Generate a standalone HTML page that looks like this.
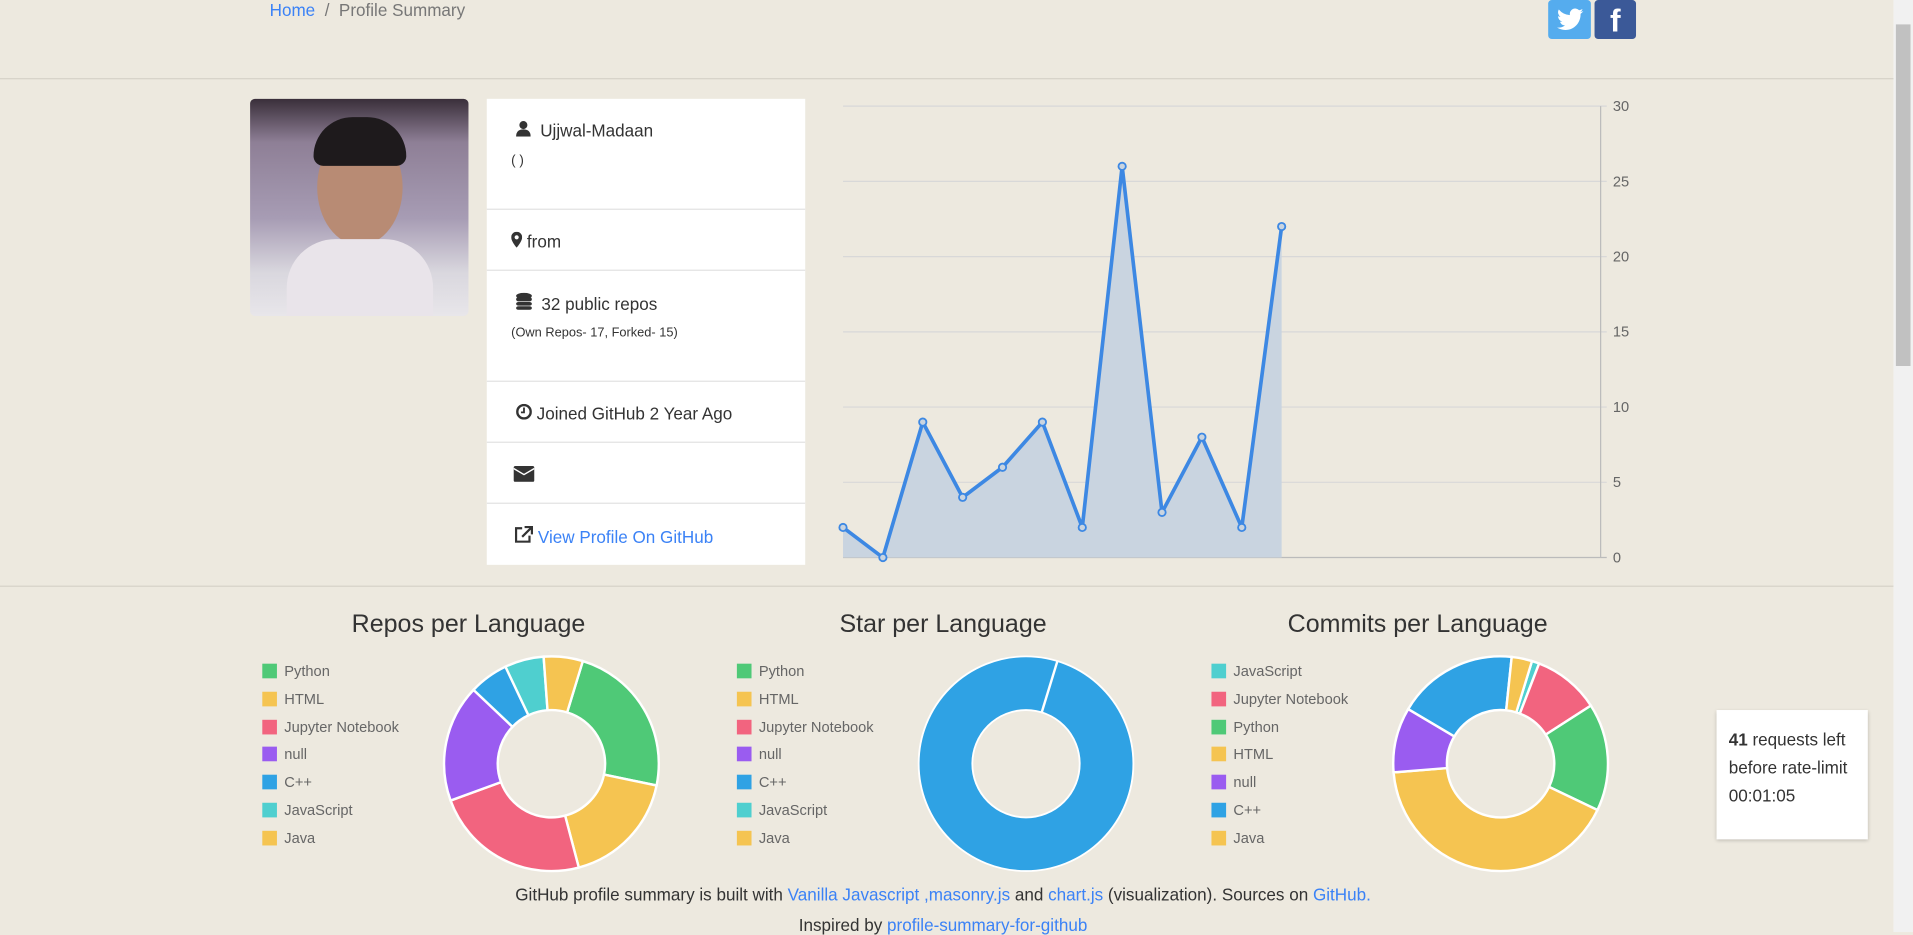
<!DOCTYPE html>
<html><head><meta charset="utf-8">
<style>
html,body{margin:0;padding:0;width:1913px;height:932px;overflow:hidden;background:#ede9df;}
#wrap{position:absolute;left:0;top:0;width:1568px;height:764px;transform:scale(1.22);transform-origin:0 0;font-family:"Liberation Sans Narrow","Liberation Sans",sans-serif;color:#333;}
.abs{position:absolute;}
a{color:#3b82f6;text-decoration:none;}
.card{left:399px;top:81px;width:261px;height:382px;background:#fff;}
.row{position:absolute;left:0;width:261px;border-top:1px solid #e2e2e2;}
.txt{position:absolute;font-size:14px;white-space:nowrap;}
.title{font-size:20.5px;color:#333;text-align:center;width:300px;}
.leg{font-family:"Liberation Sans",sans-serif;font-size:12px;color:#666;}
.leg div{position:absolute;white-space:nowrap;}
.leg span{display:inline-block;width:12px;height:12px;vertical-align:-2px;margin-right:6px;}
</style></head><body>
<div id="wrap">
<div class="abs txt" style="left:221px;top:0px;color:#777"><a href="#">Home</a> &nbsp;/&nbsp; Profile Summary</div>
<div class="abs" style="left:1269px;top:0;width:35px;height:32px;background:#55acee;border-radius:3px;color:#fff;font-size:20px;text-align:center;line-height:32px"><svg width="22" height="18" viewBox="0 0 24 20" style="margin-top:7px"><path d="M24 2.4a9.8 9.8 0 0 1-2.8.8A5 5 0 0 0 23.3.4a9.9 9.9 0 0 1-3.1 1.2A4.9 4.9 0 0 0 11.8 6 14 14 0 0 1 1.7.9a4.9 4.9 0 0 0 1.5 6.6 4.9 4.9 0 0 1-2.2-.6 4.9 4.9 0 0 0 3.9 4.9 4.9 4.9 0 0 1-2.2.1 4.9 4.9 0 0 0 4.6 3.4A9.9 9.9 0 0 1 0 17.3 14 14 0 0 0 7.5 19.5c9.1 0 14-7.5 14-14v-.6A10 10 0 0 0 24 2.4z" fill="#fff"/></svg></div>
<div class="abs" style="left:1307px;top:0;width:34px;height:32px;background:#3b5998;border-radius:3px;color:#fff;font-size:26px;font-weight:bold;text-align:center;line-height:34px;font-family:'Liberation Sans',sans-serif">f</div>
<div class="abs" style="left:1552px;top:0;width:16px;height:764px;background:#f1f1f1"><div style="position:absolute;left:2px;top:20px;width:12px;height:280px;background:#c1c1c1"></div></div>
<div class="abs" style="left:0;top:64px;width:1552px;height:1px;background:#d6d2c8"></div>
<div class="abs" style="left:0;top:480px;width:1552px;height:1px;background:#d6d2c8"></div>

<div class="abs" style="left:205px;top:81px;width:179px;height:178px;border-radius:4px;background:linear-gradient(180deg,#3a2f3a 0%,#8e7f96 20%,#a79cb4 55%,#d9d7de 80%,#e8e6ea 100%);overflow:hidden">
<div style="position:absolute;left:55px;top:25px;width:70px;height:95px;border-radius:50%;background:#b88b74"></div>
<div style="position:absolute;left:52px;top:15px;width:76px;height:40px;border-radius:40px 40px 10px 10px;background:#1e1a1c"></div>
<div style="position:absolute;left:30px;top:115px;width:120px;height:70px;border-radius:40px 40px 0 0;background:#e9e4ea"></div>
</div>

<div class="abs card">
<div class="txt" style="left:24px;top:18px"><svg width="12" height="13" viewBox="0 0 12 13"><circle cx="6" cy="3.5" r="3.3" fill="#333"/><path d="M0 13 Q0 7 6 7 Q12 7 12 13Z" fill="#333"/></svg>&nbsp; Ujjwal-Madaan</div>
<div class="txt" style="left:20px;top:45px;font-size:11px">( )</div>
<div class="row" style="top:90px"></div>
<div class="txt" style="left:20px;top:109px"><svg width="9" height="13" viewBox="0 0 9 13"><path d="M4.5 0a4.5 4.5 0 0 1 4.5 4.5C9 8 4.5 13 4.5 13S0 8 0 4.5A4.5 4.5 0 0 1 4.5 0z" fill="#333"/><circle cx="4.5" cy="4.5" r="1.7" fill="#fff"/></svg> from</div>
<div class="row" style="top:140px"></div>
<div class="txt" style="left:24px;top:159px"><svg width="13" height="14" viewBox="0 0 13 14"><ellipse cx="6.5" cy="2.5" rx="6.5" ry="2.5" fill="#333"/><rect x="0" y="3.5" width="13" height="3.5" rx="2" fill="#333"/><rect x="0" y="7.5" width="13" height="3" rx="2" fill="#333"/><rect x="0" y="11" width="13" height="3" rx="2" fill="#333"/></svg>&nbsp; 32 public repos</div>
<div class="txt" style="left:20px;top:186px;font-size:10.5px">(Own Repos- 17, Forked- 15)</div>
<div class="row" style="top:231px"></div>
<div class="txt" style="left:24px;top:250px"><svg width="13" height="13" viewBox="0 0 13 13"><circle cx="6.5" cy="6.5" r="5.5" fill="none" stroke="#333" stroke-width="2"/><path d="M6.5 3v4h-2.5" stroke="#333" stroke-width="1.5" fill="none"/></svg> Joined GitHub 2 Year Ago</div>
<div class="row" style="top:281px"></div>
<div class="txt" style="left:22px;top:301px"><svg width="17" height="13" viewBox="0 0 17 13"><rect width="17" height="13" rx="1.5" fill="#333"/><path d="M0 2 L8.5 7 L17 2" stroke="#fff" stroke-width="1.2" fill="none"/></svg></div>
<div class="row" style="top:331px"></div>
<div class="txt" style="left:23px;top:350px"><svg width="15" height="14" viewBox="0 0 15 14"><path d="M6 2H1v11h11V8" stroke="#333" stroke-width="1.8" fill="none"/><path d="M8 1h6v6M14 1L6 9" stroke="#333" stroke-width="1.8" fill="none"/></svg> <a href="#">View Profile On GitHub</a></div>
</div>

<svg id="line" class="abs" style="left:680px;top:75px" width="680" height="400"></svg>

<div class="abs title" style="left:234px;top:500px">Repos per Language</div>
<div class="abs title" style="left:623px;top:500px">Star per Language</div>
<div class="abs title" style="left:1012px;top:500px">Commits per Language</div>
<div id="leg1" class="abs leg" style="left:215px;top:543px"></div>
<div id="leg2" class="abs leg" style="left:604px;top:543px"></div>
<div id="leg3" class="abs leg" style="left:993px;top:543px"></div>
<svg id="d1" class="abs" style="left:352px;top:526px" width="200" height="200"></svg>
<svg id="d2" class="abs" style="left:741px;top:526px" width="200" height="200"></svg>
<svg id="d3" class="abs" style="left:1130px;top:526px" width="200" height="200"></svg>

<div class="abs" style="left:1407px;top:582px;width:124px;height:106px;background:#fff;box-shadow:0 1px 3px rgba(0,0,0,.2)">
<div class="txt" style="left:10px;top:16px"><b>41</b> requests left</div>
<div class="txt" style="left:10px;top:39px">before rate-limit</div>
<div class="txt" style="left:10px;top:62px">00:01:05</div>
</div>
<div class="abs txt" style="left:0;width:1546px;text-align:center;top:725px">GitHub profile summary is built with <a href="#">Vanilla Javascript</a> <a href="#">,masonry.js</a> and <a href="#">chart.js</a> (visualization). Sources on <a href="#">GitHub.</a></div>
<div class="abs txt" style="left:0;width:1546px;text-align:center;top:750px">Inspired by <a href="#">profile-summary-for-github</a></div>
</div>
<script>
const lineValues=[2,0,9,4,6,9,2,26,3,8,2,22];
const lineSlots=20;
const yTicks=[0,5,10,15,20,25,30];
const repoLangs=["Python","HTML","Jupyter Notebook","null","C++","JavaScript","Java"];
const repoValues=[4,3,4,3,1,1,1];
const starLangs=["Python","HTML","Jupyter Notebook","null","C++","JavaScript","Java"];
const starValues=[0,0,0,0,5,0,0];
const commitLangs=["JavaScript","Jupyter Notebook","Python","HTML","null","C++","Java"];
const commitValues=[4,36,58,149,35,65,11];
const colorMap={"Python":"#4fc977","HTML":"#f5c451","Jupyter Notebook":"#f2647f","null":"#9a5cf0","C++":"#2fa2e4","JavaScript":"#4fcfcf","Java":"#f5c451"};
const NS="http://www.w3.org/2000/svg";
function mk(t,a,p){const e=document.createElementNS(NS,t);for(const k in a)e.setAttribute(k,a[k]);p.appendChild(e);return e;}
(function(){
const s=document.getElementById('line');
const x0=11,x1=632,y0=382,y1=12;
const X=i=>x0+(x1-x0)*i/(lineSlots-1);
const Y=v=>y0-(y0-y1)*v/30;
yTicks.forEach(t=>{const g=mk('line',{x1:x0,x2:x1+5,y1:Y(t),y2:Y(t),stroke:t===0?'#bbb':'#d8d8d8','stroke-width':1},s);

const tx=mk('text',{x:x1+10,y:Y(t)+4,'font-size':12,fill:'#666','font-family':'Liberation Sans, sans-serif'},s);tx.textContent=t;
});
mk('line',{x1:x1,x2:x1,y1:y1,y2:y0,stroke:'#bbb'},s);
let d='M'+X(0)+' '+y0;lineValues.forEach((v,i)=>d+=' L'+X(i)+' '+Y(v));d+=' L'+X(lineValues.length-1)+' '+y0+'Z';
const a=mk('path',{d:d,fill:'#c9d4e0'},s);
const l=mk('polyline',{points:lineValues.map((v,i)=>X(i)+','+Y(v)).join(' '),fill:'none',stroke:'#3d88e3','stroke-width':3,'stroke-linejoin':'round'},s);

lineValues.forEach((v,i)=>{const c=mk('circle',{cx:X(i),cy:Y(v),r:3,fill:'#c9d4e0',stroke:'#3d88e3','stroke-width':1.5},s);
});
})();
function donut(id,legId,langs,vals){
const s=document.getElementById(id);const cx=100,cy=100,R=88,r=44;
const tot=vals.reduce((a,b)=>a+b,0);let ang=17*Math.PI/180;
const P=(rad,t)=>[cx+rad*Math.sin(t),cy-rad*Math.cos(t)];
langs.forEach((n,i)=>{if(!vals[i])return;
let p;
if(vals[i]===tot){p=mk('circle',{cx:cx,cy:cy,r:(R+r)/2,fill:'none',stroke:colorMap[n],'stroke-width':R-r},s);
mk('circle',{cx:cx,cy:cy,r:R,fill:'none',stroke:'#fff','stroke-width':1.5},s);
mk('circle',{cx:cx,cy:cy,r:r,fill:'none',stroke:'#fff','stroke-width':1.5},s);
const [ax,ay]=P(r,ang),[bx,by]=P(R,ang);mk('line',{x1:ax,y1:ay,x2:bx,y2:by,stroke:'#fff','stroke-width':2},s);}
else{const a2=ang+vals[i]/tot*2*Math.PI;
const big=(a2-ang)>Math.PI?1:0;const [ax,ay]=P(R,ang),[bx,by]=P(R,a2),[cx2,cy2]=P(r,a2),[dx,dy]=P(r,ang);
const d=`M${ax} ${ay}A${R} ${R} 0 ${big} 1 ${bx} ${by}L${cx2} ${cy2}A${r} ${r} 0 ${big} 0 ${dx} ${dy}Z`;
p=mk('path',{d:d,fill:colorMap[n],stroke:'#fff','stroke-width':2},s);ang=a2;}


});
const L=document.getElementById(legId);
langs.forEach((n,i)=>{const e=document.createElement('div');e.style.top=(i*22.8)+'px';
e.innerHTML='<span style="background:'+colorMap[n]+'"></span>'+n;


L.appendChild(e);});
}
donut('d1','leg1',repoLangs,repoValues);
donut('d2','leg2',starLangs,starValues);
donut('d3','leg3',commitLangs,commitValues);
</script>
</body></html>
